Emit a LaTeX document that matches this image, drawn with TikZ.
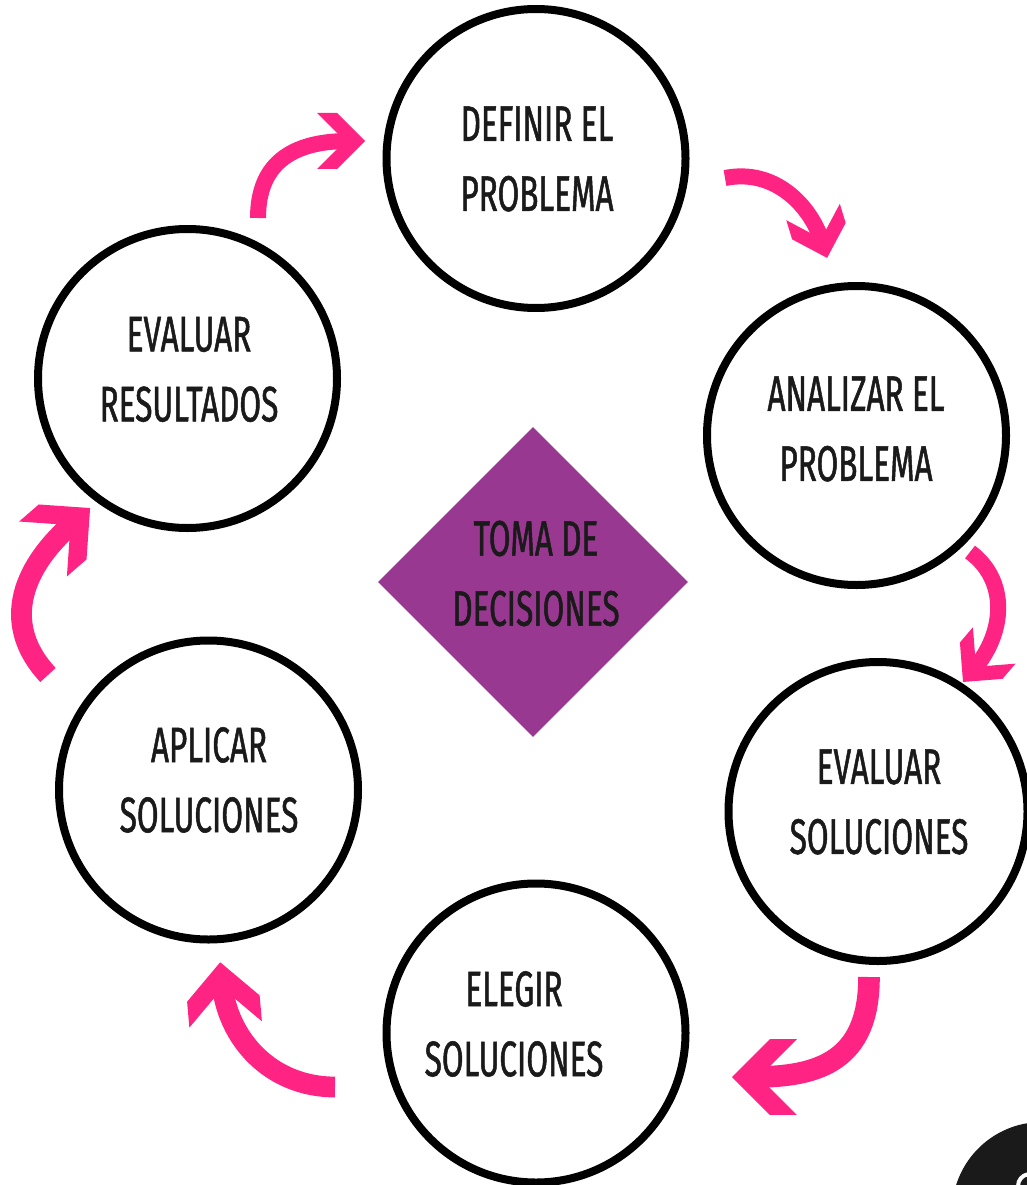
\documentclass[tikz,border=0pt]{standalone}
\usepackage{fontspec}
\newfontfamily\lblfont{Fira Sans}[FakeStretch=0.63, FakeBold=1]
\usetikzlibrary{shapes.geometric}
\definecolor{hotpink}{HTML}{FF2483}
\definecolor{mauve}{HTML}{993890}
\definecolor{ink}{HTML}{1A1A1A}
\newcommand\pinkhead[3]{%
  \fill[hotpink, shift={(#1)}, rotate=#2, scale=#3]
    (16,0) -- (-12,28) -- (-32,28) -- (-4,0) -- (-32,-28) -- (-12,-28) -- cycle;}
\begin{document}
\begin{tikzpicture}[x=1pt,y=-1pt,
  ring/.style={circle, draw=black, line width=8pt, minimum size=299pt, inner sep=0pt, fill=white},
  lbl/.style={font=\lblfont\fontsize{50}{70}\selectfont, text=ink, align=center, inner sep=0pt},
  shaft/.style={draw=hotpink, line width=#1}]
\useasboundingbox (0,0) rectangle (1026,1185);
\fill[white] (0,0) rectangle (1026,1185);

% circles
\node[ring] (dp) at (536,158.5) {};
\node[ring] (ap) at (856.5,435.5) {};
\node[ring] (es) at (878,811.5) {};
\node[ring] (el) at (536,1033) {};
\node[ring] (as) at (208.5,790) {};
\node[ring] (er) at (187.5,378.5) {};

% centre diamond
\node[diamond, fill=mauve, minimum width=310pt, minimum height=310pt, inner sep=0pt] (dm) at (533,582) {};

% labels
\node[lbl] (tdp) at (537,159) {DEFINIR EL\\PROBLEMA};
\node[lbl] (tap) at (856,429) {ANALIZAR EL\\PROBLEMA};
\node[lbl] (tes) at (879,802) {EVALUAR\\SOLUCIONES};
\node[lbl] (tel) at (514,1024) {ELEGIR\\SOLUCIONES};
\node[lbl] (tas) at (209,780) {APLICAR\\SOLUCIONES};
\node[lbl] (ter) at (189,369.5) {EVALUAR\\RESULTADOS};
\node[lbl] (tdm) at (536,573.5) {TOMA DE\\DECISIONES};

% arrow coordinates
\coordinate (a1s) at (258,218);  \coordinate (a1n) at (349,141);
\coordinate (a2s) at (725,178);  \coordinate (a2n) at (822.4,242.6);
\coordinate (a3s) at (970,552);  \coordinate (a3n) at (973.4,669.8);
\coordinate (a4s) at (869,977);  \coordinate (a4n) at (753.6,1077);
\coordinate (a5s) at (335,1087); \coordinate (a5n) at (222,983);
\coordinate (a6s) at (48,675);   \coordinate (a6n) at (74.4,521.7);

% arrows
\draw[shaft=16pt] (a1s) .. controls (258,165) and (290,141) .. (a1n);
\pinkhead{a1n}{0}{1}
\draw[shaft=16pt] (a2s) .. controls (775,168) and (811,206) .. (a2n);
\pinkhead{a2n}{-73}{1}
\draw[shaft=16pt] (a3s) .. controls (1008,580) and (1006,632) .. (a3n);
\pinkhead{a3n}{-130.5}{1}
\draw[shaft=21.6pt] (a4s) .. controls (869,1060) and (820,1077) .. (a4n);
\pinkhead{a4n}{180}{1.35}
\draw[shaft=20.8pt] (a5s) .. controls (270,1087) and (227,1038) .. (a5n);
\pinkhead{a5n}{95}{1.3}
\draw[shaft=20.8pt] (a6s) .. controls (4,628) and (16,572) .. (a6n);
\pinkhead{a6n}{41}{1.3}

% corner badge
\node[circle, fill=ink, minimum size=180pt, inner sep=0pt] (badge) at (1042,1212) {};
\draw[white, line width=4pt] (1018,1186) arc[start angle=180, end angle=260, radius=12];
\end{tikzpicture}
\end{document}
